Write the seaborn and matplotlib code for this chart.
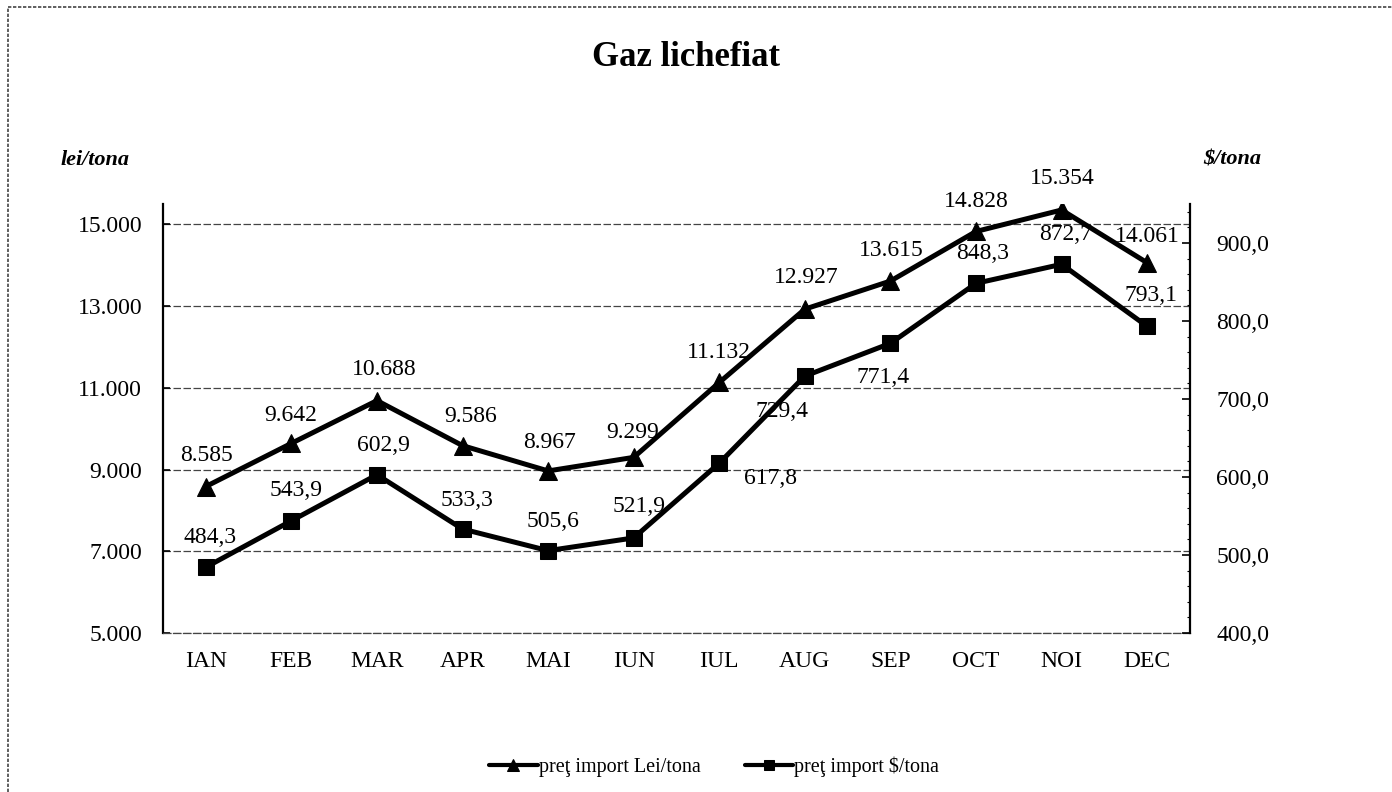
import pandas as pd
import matplotlib.pyplot as plt
import seaborn as sns
from matplotlib.ticker import FixedLocator, FuncFormatter, MultipleLocator

# data
months = ["IAN", "FEB", "MAR", "APR", "MAI", "IUN", "IUL", "AUG", "SEP", "OCT", "NOI", "DEC"]
lei_tona = [8585, 9642, 10688, 9586, 8967, 9299, 11132, 12927, 13615, 14828, 15354, 14061]
usd_tona = [484.3, 543.9, 602.9, 533.3, 505.6, 521.9, 617.8, 729.4, 771.4, 848.3, 872.7, 793.1]

# label offsets (pixels, y up) for the data labels
lei_off = [(1, 31), (-1, 28), (7, 31), (8, 29), (1, 28), (-1, 25), (0, 30), (1, 32), (1, 31), (0, 30), (1, 31), (0, 26)]
usd_off = [(4, 30), (5, 30), (6, 29), (4, 29), (5, 29), (5, 31), (51, -15), (-23, -35), (-7, -34), (7, 30), (4, 30), (4, 31)]

df = pd.DataFrame({"x": range(len(months)), "lei": lei_tona, "usd": usd_tona})

sns.set_theme(style="white", rc={"text.color": "black", "xtick.color": "black", "ytick.color": "black"})
plt.rcParams["font.family"] = ["Liberation Serif", "DejaVu Serif"]

fig = plt.figure(figsize=(13.92, 7.92), dpi=100)
ax = fig.add_axes([163 / 1392, 1 - 633 / 792, (1190 - 163) / 1392, (633 - 204) / 792])
ax2 = ax.twinx()

sns.lineplot(data=df, x="x", y="lei", ax=ax, color="black", linewidth=3.6,
             marker="^", markersize=13, markeredgecolor="black", label="preţ import Lei/tona", legend=False)
sns.lineplot(data=df, x="x", y="usd", ax=ax2, color="black", linewidth=3.6,
             marker="s", markersize=11, markeredgecolor="black", label="preţ import $/tona", legend=False)

ax.set_xlim(-0.5, 11.5)
ax.set_ylim(5000, 15500)
ax2.set_ylim(400, 950)
ax.xaxis.set_major_locator(FixedLocator(df["x"]))
ax.set_xticklabels(months)
ax.yaxis.set_major_locator(FixedLocator([5000, 7000, 9000, 11000, 13000, 15000]))
ax.yaxis.set_major_formatter(FuncFormatter(lambda v, p: f"{int(v):,}".replace(",", ".")))
ax2.yaxis.set_major_locator(FixedLocator([400, 500, 600, 700, 800, 900]))
ax2.yaxis.set_minor_locator(MultipleLocator(20))
ax2.yaxis.set_major_formatter(FuncFormatter(lambda v, p: f"{v:.1f}".replace(".", ",")))

ax.set_xlabel("")
ax.set_ylabel("")
ax2.set_ylabel("")
ax.grid(axis="y", color="#444444", linestyle=(0, (6, 2)), linewidth=0.9)
ax.grid(axis="x", visible=False)
ax2.grid(False)

for a in (ax, ax2):
    a.spines["top"].set_visible(False)
ax2.spines["bottom"].set_visible(False)
ax.spines["bottom"].set_color("#444444")
ax.spines["bottom"].set_linewidth(0.9)
ax.spines["bottom"].set_linestyle((0, (6, 2)))
ax.spines["left"].set_linewidth(1.6)
ax.spines["left"].set_color("black")
ax2.spines["right"].set_linewidth(1.6)
ax2.spines["right"].set_color("black")
ax2.spines["left"].set_visible(False)

ax.tick_params(axis="y", direction="in", length=5, width=1.2, color="black", labelsize=17, pad=15)
ax.tick_params(axis="x", length=0, labelsize=17, pad=13)
ax2.tick_params(axis="y", which="major", direction="in", length=6, width=1.2, color="black", labelsize=17, pad=19)
ax2.tick_params(axis="y", which="minor", direction="in", length=2, width=0.8, color="black")

for i, v in enumerate(lei_tona):
    ax.annotate(f"{v:,}".replace(",", "."), (i, v), xytext=lei_off[i], textcoords="offset pixels",
                ha="center", va="center", fontsize=17)
for i, v in enumerate(usd_tona):
    ax2.annotate(f"{v:.1f}".replace(".", ","), (i, v), xytext=usd_off[i], textcoords="offset pixels",
                 ha="center", va="center", fontsize=17)

fig.text(686 / 1392, 1 - 57 / 792, "Gaz lichefiat", ha="center", va="center", fontsize=25, fontweight="bold")
fig.text(95 / 1392, 1 - 160 / 792, "lei/tona", ha="center", va="center", fontsize=16,
         fontweight="bold", fontstyle="italic")
fig.text(1232 / 1392, 1 - 160 / 792, "$/tona", ha="center", va="center", fontsize=16,
         fontweight="bold", fontstyle="italic")

h1, l1 = ax.get_legend_handles_labels()
h2, l2 = ax2.get_legend_handles_labels()
leg = fig.legend(h1 + h2, l1 + l2, loc="center", bbox_to_anchor=(714 / 1392, 1 - 767 / 792), ncol=2,
                 frameon=False, fontsize=14.5, handlelength=2.4, handletextpad=0.05, columnspacing=2.2,
                 markerscale=0.65)
for line in leg.get_lines():
    line.set_linewidth(3)

# outer chart frame (left and top edges visible in the scan)
fig.add_artist(plt.Line2D([8 / 1392, 8 / 1392], [0, 1 - 7 / 792], color="#444444", linewidth=1.2,
                          linestyle=(0, (2, 1)), transform=fig.transFigure))
fig.add_artist(plt.Line2D([8 / 1392, 1], [1 - 7 / 792, 1 - 7 / 792], color="#444444", linewidth=1.2,
                          linestyle=(0, (2, 1)), transform=fig.transFigure))

fig.savefig("out.png", dpi=100)
